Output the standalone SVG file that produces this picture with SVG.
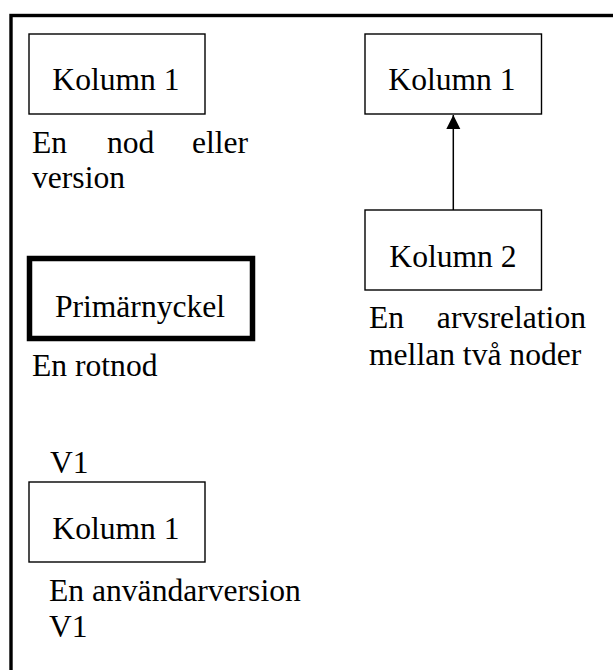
<svg xmlns="http://www.w3.org/2000/svg" width="613" height="670" viewBox="0 0 613 670">
  <style>
    .frame { fill: none; stroke: #000; stroke-width: 3.4; }
    .box { fill: #fff; stroke: #000; stroke-width: 1.4; }
    .root { fill: #fff; stroke: #000; stroke-width: 5.5; }
    .t { font-family: "Liberation Serif", "Times New Roman", serif; font-size: 31.6px; fill: #000; }
    .edge { stroke: #000; stroke-width: 1.5; fill: none; }
  </style>
  <defs>
    <marker id="arrow" viewBox="0 0 14 15" refX="14" refY="7" markerWidth="14" markerHeight="15" markerUnits="userSpaceOnUse" orient="auto">
      <path d="M0,0 L14,7 L0,14 Z" fill="#000"/>
    </marker>
  </defs>
  <rect width="613" height="670" fill="#fff"/>

  <!-- outer frame (continues past the right and bottom edges) -->
  <rect class="frame" x="11" y="15.5" width="700" height="700"/>

  <!-- connectors -->
  <g id="connectors">
    <line class="edge" x1="453.3" y1="210" x2="453.3" y2="115" marker-end="url(#arrow)"/>
  </g>

  <!-- node / version legend -->
  <g id="node-version">
    <rect class="box" x="29" y="34" width="176" height="80"/>
    <text class="t" x="116" y="90" text-anchor="middle">Kolumn 1</text>
    <text class="t" x="32" y="153">En</text>
    <text class="t" x="107" y="153">nod</text>
    <text class="t" x="248" y="153" text-anchor="end">eller</text>
    <text class="t" x="32" y="188">version</text>
  </g>

  <!-- parent node -->
  <g id="parent">
    <rect class="box" x="365" y="34" width="176.5" height="80"/>
    <text class="t" x="452" y="90" text-anchor="middle">Kolumn 1</text>
  </g>

  <!-- child node -->
  <g id="child">
    <rect class="box" x="365" y="210" width="176.5" height="80"/>
    <text class="t" x="453" y="267" text-anchor="middle">Kolumn 2</text>
    <text class="t" x="369" y="328">En</text>
    <text class="t" x="586" y="328" text-anchor="end">arvsrelation</text>
    <text class="t" x="369" y="365">mellan två noder</text>
  </g>

  <!-- root node -->
  <g id="root">
    <rect class="root" x="29.5" y="258.5" width="223" height="80"/>
    <text class="t" x="140" y="317" text-anchor="middle">Primärnyckel</text>
    <text class="t" x="32" y="376">En rotnod</text>
  </g>

  <!-- user version -->
  <g id="user-version">
    <text class="t" x="50" y="473">V1</text>
    <rect class="box" x="29" y="482" width="176" height="80"/>
    <text class="t" x="116" y="538.5" text-anchor="middle">Kolumn 1</text>
    <text class="t" x="49" y="601">En användarversion</text>
    <text class="t" x="49" y="637">V1</text>
  </g>
</svg>
